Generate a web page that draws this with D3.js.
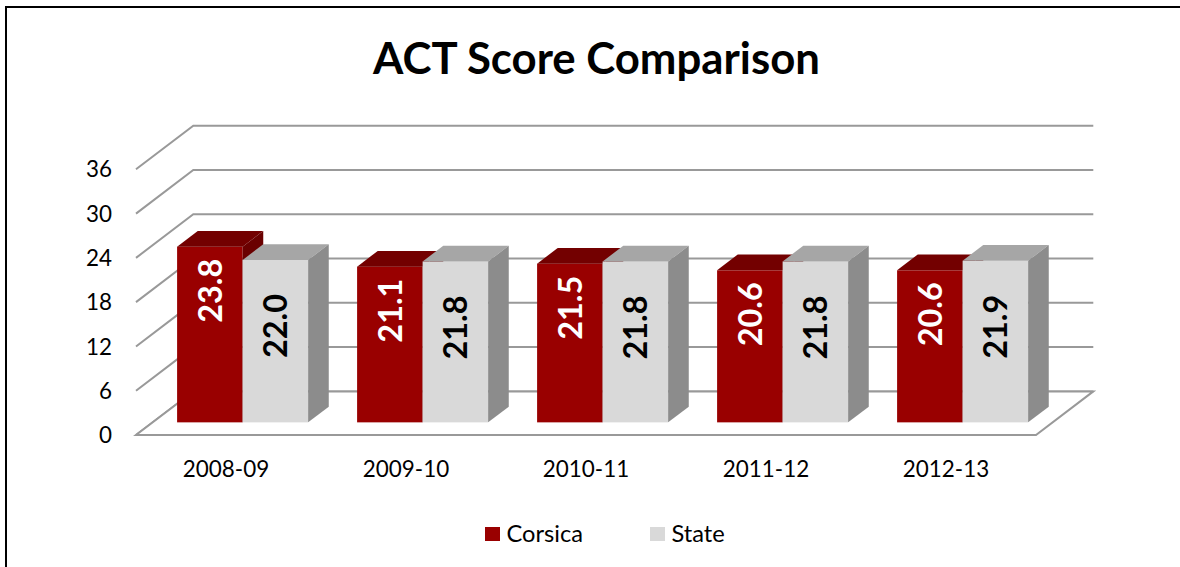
<!DOCTYPE html>
<html>
<head>
<meta charset="utf-8">
<script src="https://cdn.jsdelivr.net/npm/d3@7"></script>
<style>
  html, body { margin: 0; padding: 0; background: #fff; }
  svg { display: block; }
  text { font-family: Lato, "Open Sans", sans-serif; }
</style>
</head>
<body>
<svg id="chart" width="1180" height="567"></svg>
<script>
// ---- data ----
const title = "ACT Score Comparison";
const categories = ["2008-09", "2009-10", "2010-11", "2011-12", "2012-13"];
const seriesNames = ["Corsica", "State"];
const corsica = [23.8, 21.1, 21.5, 20.6, 20.6];
const state = [22.0, 21.8, 21.8, 21.8, 21.9];
const yTicks = [0, 6, 12, 18, 24, 30, 36];

// ---- layout / style ----
const W = 1180, H = 567;
const svg = d3.select("#chart");
const DX = 57.3, DY = 43.6;          // depth vector of the 3D box
const d0 = 0.29, bd = 0.36;          // bar front depth & bar depth (fractions)
const colors = {
  Corsica: { front: "#990000", top: "#730000", side: "#6a0000", label: "#ffffff" },
  State:   { front: "#d9d9d9", top: "#a6a6a6", side: "#8c8c8c", label: "#000000" }
};
const labelOffset = { Corsica: 44, State: 66 };
const gridColor = "#999999";

// measure a sample string and return the font size giving the target width
function fitSize(sample, weight, target) {
  const tmp = svg.append("text").attr("font-size", 40).attr("font-weight", weight).text(sample);
  const w = tmp.node().getComputedTextLength();
  tmp.remove();
  return 40 * target / w;
}
const titleSize = fitSize(title, "bold", 447);
const dataSize = fitSize("23.8", "bold", 64);
const axisSize = fitSize("2008-09", "normal", 86.5);
const ySize = fitSize("36", "normal", 26);
const legendSize = fitSize("Corsica", "normal", 76.5);

const x = d3.scaleBand().domain(categories).range([136, 1036]).paddingInner(0.272).paddingOuter(0.136);
const s = d3.scaleBand().domain(seriesNames).range([0, x.bandwidth()]);
const y = d3.scaleLinear().domain([0, 36]).range([435, 169.3]);

// border
svg.append("line").attr("x1", 5).attr("x2", W).attr("y1", 7).attr("y2", 7).attr("stroke", "#000").attr("stroke-width", 2);
svg.append("line").attr("x1", 6).attr("x2", 6).attr("y1", 6).attr("y2", H).attr("stroke", "#000").attr("stroke-width", 2);

// title
svg.append("text").attr("x", 596.5).attr("y", 74).attr("text-anchor", "middle")
  .attr("font-weight", "bold").attr("font-size", titleSize).attr("fill", "#000").text(title);

// walls: gridlines
const x0 = x.range()[0], x1 = x.range()[1];
const grid = svg.append("g");
yTicks.forEach(v => {
  const yy = y(v);
  grid.append("polyline")
    .attr("points", [[x0, yy], [x0 + DX, yy - DY], [x1 + DX, yy - DY]].map(p => p.join(",")).join(" "))
    .attr("fill", "none").attr("stroke", gridColor).attr("stroke-width", 2);
});

// floor
svg.append("polygon")
  .attr("points", [[x0, y(0)], [x1, y(0)], [x1 + DX, y(0) - DY], [x0 + DX, y(0) - DY]].map(p => p.join(",")).join(" "))
  .attr("fill", "#fff").attr("stroke", gridColor).attr("stroke-width", 2);

// y labels
svg.append("g").selectAll("text").data(yTicks).join("text")
  .attr("x", 112).attr("y", d => y(d)).attr("dy", "0.36em").attr("text-anchor", "end")
  .attr("font-size", ySize).attr("fill", "#000").text(d => d);

// x labels
svg.append("g").selectAll("text").data(categories).join("text")
  .attr("x", d => x(d) + x.bandwidth() / 2).attr("y", 477)
  .attr("text-anchor", "middle").attr("font-size", axisSize).attr("fill", "#000").text(d => d);

// bars
const bars = svg.append("g");
const pts = a => a.map(p => p.join(",")).join(" ");
categories.forEach((c, i) => {
  [["Corsica", corsica[i]], ["State", state[i]]].forEach(([name, v]) => {
    const col = colors[name];
    const w = s.bandwidth();
    const fx = x(c) + s(name) + d0 * DX;
    const ft = y(v) - d0 * DY;
    const fb = y(0) - d0 * DY;
    const bx = bd * DX, by = bd * DY;
    const g = bars.append("g");
    g.append("rect").attr("x", fx).attr("y", ft).attr("width", w).attr("height", fb - ft).attr("fill", col.front);
    g.append("polygon").attr("points", pts([[fx, ft], [fx + w, ft], [fx + w + bx, ft - by], [fx + bx, ft - by]])).attr("fill", col.top);
    g.append("polygon").attr("points", pts([[fx + w, ft], [fx + w + bx, ft - by], [fx + w + bx, fb - by], [fx + w, fb]])).attr("fill", col.side);
    const cx = fx + w / 2, cy = ft + labelOffset[name];
    g.append("text").attr("transform", `translate(${cx},${cy}) rotate(-90)`)
      .attr("text-anchor", "middle").attr("dy", "0.36em")
      .attr("font-weight", "bold").attr("font-size", dataSize).attr("fill", col.label)
      .text(v.toFixed(1));
  });
});

// legend
const legend = svg.append("g");
const legendX = [485, 650];
seriesNames.forEach((n, i) => {
  legend.append("rect").attr("x", legendX[i]).attr("y", 527).attr("width", 15).attr("height", 14).attr("fill", colors[n].front);
  legend.append("text").attr("x", legendX[i] + 21.5).attr("y", 541.5).attr("font-size", legendSize).attr("fill", "#000").text(n);
});
</script>
</body>
</html>
